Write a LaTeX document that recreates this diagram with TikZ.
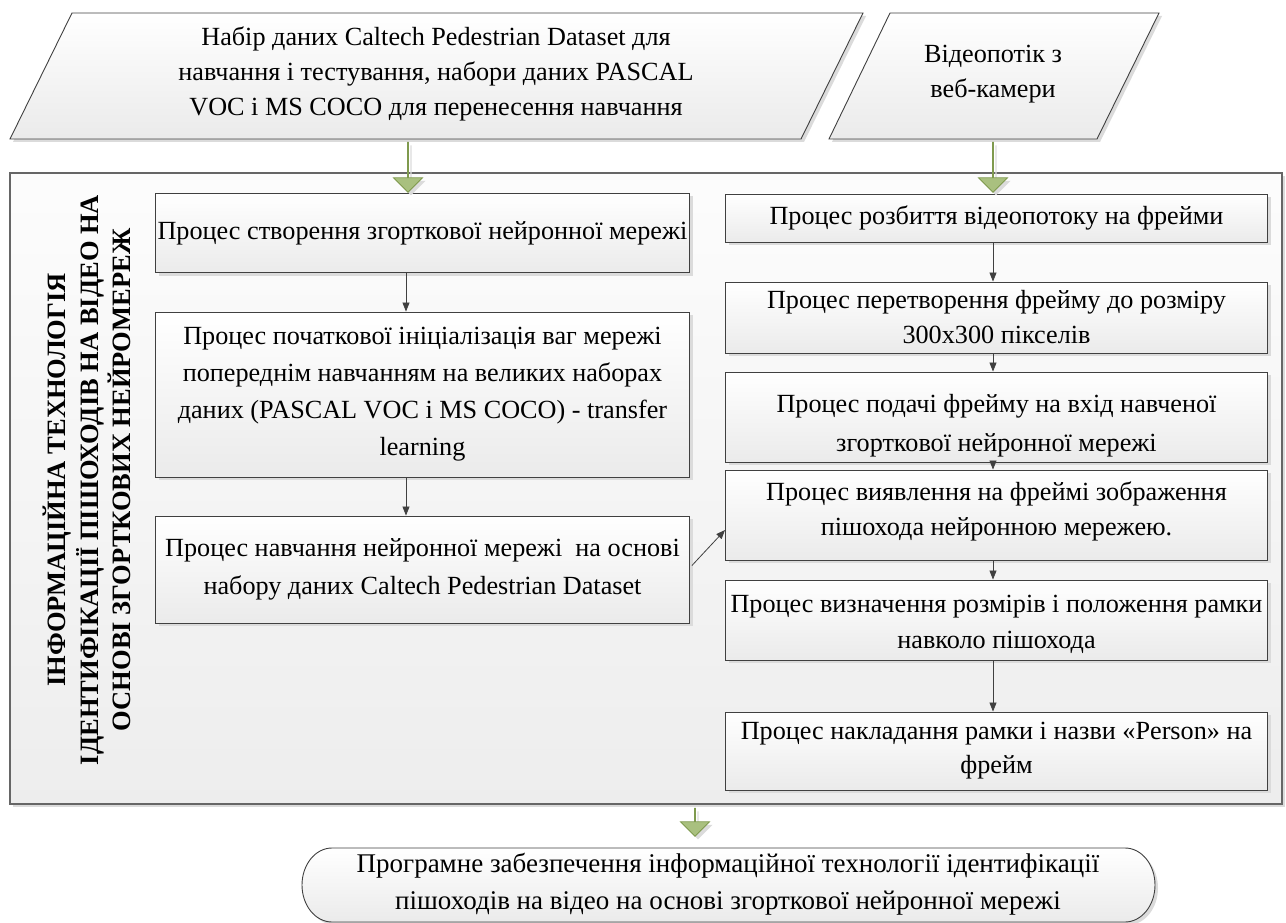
\documentclass[tikz,border=0pt]{standalone}
\usepackage{fontspec}
\setmainfont{Liberation Serif}
\usetikzlibrary{shapes.arrows,shadows,arrows.meta,calc}
\definecolor{gfill}{HTML}{A9C07F}
\definecolor{gline}{HTML}{7F9A4E}
\begin{document}
\begin{tikzpicture}[x=1pt,y=-1pt,
  txt/.style={font=\fontsize{26.2}{35}\selectfont, align=center, inner sep=0pt},
  shd/.style={drop shadow={shadow xshift=3pt, shadow yshift=-3pt, fill=black!14, opacity=1}},
  gbox/.style={draw=black!75, line width=0.9pt, top color=white, bottom color=black!8, shd,
     txt, minimum height=#1},
  lbox/.style={gbox=#1, minimum width=534pt},
  rbox/.style={gbox=#1, minimum width=542pt},
  container/.style={draw=black!60, line width=1.2pt, top color=black!1, bottom color=black!7, shd},
  garrow/.style={single arrow, draw=gline, fill=gfill, line width=0.8pt, inner sep=0pt,
     minimum width=29pt, single arrow head extend=10.5pt, single arrow tip angle=90,
     minimum height=#1, rotate=-90, shd},
  thin/.style={draw=black!75, line width=0.8pt, -{Triangle[length=9pt,width=7pt]}}
]
\useasboundingbox (0,0) rectangle (1286,923);

% input parallelograms
\draw[gbox=0pt] (10,139) -- (72,13) -- (863,13) -- (801,139) -- cycle;
\node[txt] (in1) at (436,74) {Набір даних Caltech Pedestrian Dataset для\\навчання і тестування, набори даних PASCAL\\VOC і MS COCO для перенесення навчання};
\draw[gbox=0pt] (829,139) -- (890,13) -- (1159,13) -- (1097,139) -- cycle;
\node[txt] (in2) at (993,74.5) {Відеопотік з\\веб-камери};

% container
\draw[container] (10,173) rectangle (1282,804);
\node[rotate=90, align=center, inner sep=0pt,
      font=\bfseries\fontsize{26.5}{32.5}\selectfont] (title) at (87,480)
  {ІНФОРМАЦІЙНА ТЕХНОЛОГІЯ\\ІДЕНТИФІКАЦІЇ ПІШОХОДІВ НА ВІДЕО НА\\ОСНОВІ ЗГОРТКОВИХ НЕЙРОМЕРЕЖ};

% left column
\node[lbox=79pt] (A) at (422.5,233) {Процес створення згорткової нейронної мережі};
\node[lbox=165pt, font=\fontsize{26.2}{37}\selectfont] (B) at (422.5,394.5) {Процес початкової ініціалізація ваг мережі\\попереднім навчанням на великих наборах\\даних (PASCAL VOC і MS COCO) - transfer\\learning};
\node[lbox=107pt, font=\fontsize{26.2}{38}\selectfont] (C) at (422.5,569.5) {Процес навчання нейронної мережі\ \ на основі\\набору даних Caltech Pedestrian Dataset};

% right column
\node[rbox=48pt] (R1) at (996.5,218) {Процес розбиття відеопотоку на фрейми};
\node[rbox=71pt] (R2) at (996.5,317.5) {Процес перетворення фрейму до розміру\\300x300 пікселів};
\node[rbox=90pt, font=\fontsize{26.2}{39}\selectfont] (R3) at (996.5,417) {\rule{0pt}{36pt}Процес подачі фрейму на вхід навченої\\згорткової нейронної мережі};
\node[rbox=90pt] (R4) at (996.5,515) {Процес виявлення на фреймі зображення\\пішохода нейронною мережею.\rule[-12pt]{0pt}{0pt}};
\node[rbox=80pt, font=\fontsize{26.2}{36}\selectfont] (R5) at (996.5,620) {\rule{0pt}{26pt}Процес визначення розмірів і положення рамки\\навколо пішохода};
\node[rbox=78pt, font=\fontsize{26.2}{34}\selectfont] (R6) at (996.5,751) {Процес накладання рамки і назви «Person» на\\фрейм};

% output terminator
\draw[gbox=0pt] (332,848) -- (1125,848) arc[start angle=-90, end angle=90, x radius=30, y radius=37]
   -- (332,922) arc[start angle=90, end angle=270, x radius=30, y radius=37] -- cycle;
\node[txt, font=\fontsize{27}{37}\selectfont] (out) at (728,884.5) {Програмне забезпечення інформаційної технології ідентифікації\\пішоходів на відео на основі згорткової нейронної мережі};

% green block arrows
\node[garrow=50pt] (g1) at (408,167) {};
\node[garrow=50pt] (g2) at (993,167) {};
\node[garrow=28pt] (g3) at (695,822) {};

% thin arrows
\draw[thin] (A.south -| 406,0) -- (B.north -| 406,0);
\draw[thin] (B.south -| 406,0) -- (C.north -| 406,0);
\draw[thin] (R1.south -| 993,0) -- (R2.north -| 993,0);
\draw[thin] (R2.south -| 993,0) -- (R3.north -| 993,0);
\draw[thin] (R3.south -| 993,0) -- (R4.north -| 993,0);
\draw[thin] (R4.south -| 993,0) -- (R5.north -| 993,0);
\draw[thin] (R5.south -| 993,0) -- (R6.north -| 993,0);
\draw[thin] ($(C.east)+(2,-4)$) -- ($(R4.west)+(0,15)$);
\end{tikzpicture}
\end{document}
